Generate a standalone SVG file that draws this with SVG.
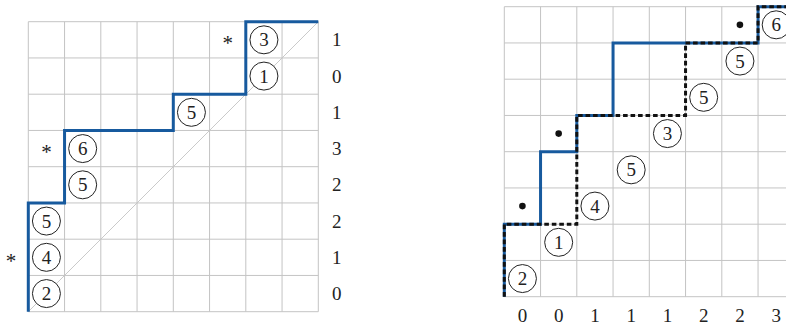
<svg xmlns="http://www.w3.org/2000/svg" width="786" height="327" viewBox="0 0 786 327">
<defs>
<style>
.grid{stroke:#c4c4c4;stroke-width:1;fill:none}
.diag{stroke:#c4c4c4;stroke-width:0.9;fill:none}
.blue{stroke:#175a9e;stroke-width:3;fill:none;stroke-linejoin:miter;stroke-linecap:butt}
.dash{stroke:#111;stroke-width:3;fill:none;stroke-dasharray:4.6 2.9}
.c{fill:#fff;stroke:#222;stroke-width:1}
text{font-family:"Liberation Serif","DejaVu Serif",serif;font-size:19px;fill:#222;text-anchor:middle}
.ast{font-size:21px}
</style>
</defs>
<rect width="786" height="327" fill="#fff"/>

<!-- Left figure -->
<g id="left" transform="translate(28.3,21.7)">
  <g id="left-grid">
    <path class="grid" d="M0,0V290M36.25,0V290M72.5,0V290M108.75,0V290M145,0V290M181.25,0V290M217.5,0V290M253.75,0V290M290,0V290M0,0H290M0,36.25H290M0,72.5H290M0,108.75H290M0,145H290M0,181.25H290M0,217.5H290M0,253.75H290M0,290H290"/>
    <path class="diag" d="M0,290L290,0"/>
  </g>
  <g id="left-connectors">
    <path class="blue" d="M0,290V181.25H36.25V108.75H145V72.5H217.5V0H290"/>
  </g>
  <g id="L2"><circle class="c" cx="18.125" cy="271.875" r="14"/><text x="18.125" y="278.5">2</text></g>
  <g id="L4"><circle class="c" cx="18.125" cy="235.625" r="14"/><text x="18.125" y="242.2">4</text></g>
  <g id="L5a"><circle class="c" cx="18.125" cy="199.375" r="14"/><text x="18.125" y="206">5</text></g>
  <g id="L5b"><circle class="c" cx="54.375" cy="163.125" r="14"/><text x="54.375" y="169.7">5</text></g>
  <g id="L6"><circle class="c" cx="54.375" cy="126.875" r="14"/><text x="54.375" y="133.5">6</text></g>
  <g id="L5c"><circle class="c" cx="163.125" cy="90.625" r="14"/><text x="163.125" y="97.2">5</text></g>
  <g id="L1"><circle class="c" cx="235.625" cy="54.375" r="14"/><text x="235.625" y="61">1</text></g>
  <g id="L3"><circle class="c" cx="235.625" cy="18.125" r="14"/><text x="235.625" y="24.7">3</text></g>
  <g id="left-stars">
    <text class="ast" x="-17.3" y="246">*</text>
    <text class="ast" x="18.125" y="137.3">*</text>
    <text class="ast" x="199.375" y="28.5">*</text>
  </g>
  <g id="left-labels">
    <text x="308.4" y="24.7">1</text>
    <text x="308.4" y="61">0</text>
    <text x="308.4" y="97.2">1</text>
    <text x="308.4" y="133.5">3</text>
    <text x="308.4" y="169.7">2</text>
    <text x="308.4" y="206">2</text>
    <text x="308.4" y="242.2">1</text>
    <text x="308.4" y="278.5">0</text>
  </g>
</g>

<!-- Right figure -->
<g id="right" transform="translate(504.3,6.7)">
  <g id="right-grid">
    <path class="grid" d="M0,0V290M36.25,0V290M72.5,0V290M108.75,0V290M145,0V290M181.25,0V290M217.5,0V290M253.75,0V290M290,0V290M0,0H290M0,36.25H290M0,72.5H290M0,108.75H290M0,145H290M0,181.25H290M0,217.5H290M0,253.75H290M0,290H290"/>
  </g>
  <g id="right-connectors">
    <path class="blue" d="M0,290V217.5H36.25V145H72.5V108.75H108.75V36.25H253.75V0H295"/>
    <path class="dash" d="M0,290V217.5H72.5V108.75H181.25V36.25H253.75V0H295"/>
  </g>
  <g id="R2"><circle class="c" cx="18.125" cy="271.875" r="14"/><text x="18.125" y="278.5">2</text></g>
  <g id="R1"><circle class="c" cx="54.375" cy="235.625" r="14"/><text x="54.375" y="242.2">1</text></g>
  <g id="R4"><circle class="c" cx="90.625" cy="199.375" r="14"/><text x="90.625" y="206">4</text></g>
  <g id="R5a"><circle class="c" cx="126.875" cy="163.125" r="14"/><text x="126.875" y="169.7">5</text></g>
  <g id="R3"><circle class="c" cx="163.125" cy="126.875" r="14"/><text x="163.125" y="133.5">3</text></g>
  <g id="R5b"><circle class="c" cx="199.375" cy="90.625" r="14"/><text x="199.375" y="97.2">5</text></g>
  <g id="R5c"><circle class="c" cx="235.625" cy="54.375" r="14"/><text x="235.625" y="61">5</text></g>
  <g id="R6"><circle class="c" cx="271.875" cy="18.125" r="14"/><text x="271.875" y="24.7">6</text></g>
  <g id="right-dots" fill="#111">
    <circle cx="18.125" cy="199.375" r="3.3"/>
    <circle cx="54.375" cy="126.875" r="3.3"/>
    <circle cx="235.625" cy="18.125" r="3.3"/>
  </g>
  <g id="right-labels">
    <text x="18.125" y="315">0</text>
    <text x="54.375" y="315">0</text>
    <text x="90.625" y="315">1</text>
    <text x="126.875" y="315">1</text>
    <text x="163.125" y="315">1</text>
    <text x="199.375" y="315">2</text>
    <text x="235.625" y="315">2</text>
    <text x="271.875" y="315">3</text>
  </g>
</g>
</svg>
